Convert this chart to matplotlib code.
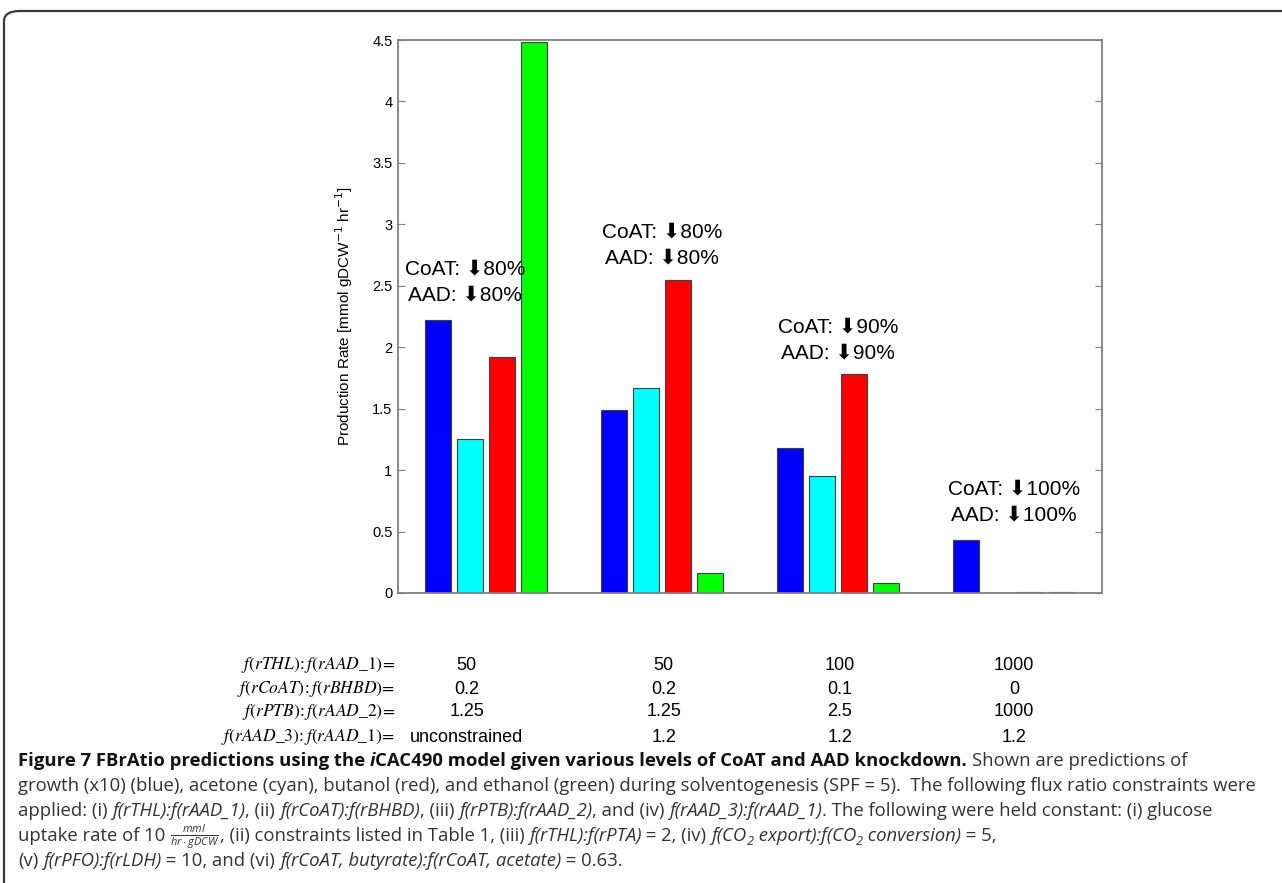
import matplotlib
matplotlib.use('Agg')
import matplotlib.pyplot as plt
import matplotlib.patches as patches
import matplotlib.transforms as mtransforms
import numpy as np

# data
groups = [1, 2, 3, 4]
growth = [2.22, 1.49, 1.18, 0.43]
acetone = [1.25, 1.67, 0.95, 0.0]
butanol = [1.92, 2.55, 1.78, 0.01]
ethanol = [4.48, 0.16, 0.08, 0.01]
series_colors = ['#0000ff', '#00ffff', '#ff0000', '#00ff00']

knockdown = ['80%', '80%', '90%', '100%']
knock_y = [2.53, 2.83, 2.06, 0.74]
knock_x = [0.88, 2.0, 3.0, 4.0]

row_labels = [r'$f\left(rTHL\right)\!:f\left(rAAD\_1\right)\!=$',
              r'$f\left(rCoAT\right)\!:f\left(rBHBD\right)\!=$',
              r'$f\left(rPTB\right)\!:f\left(rAAD\_2\right)\!=$',
              r'$f\left(rAAD\_3\right)\!:f\left(rAAD\_1\right)\!=$']
ratio_thl = ['50', '50', '100', '1000']
ratio_coat = ['0.2', '0.2', '0.1', '0']
ratio_ptb = ['1.25', '1.25', '2.5', '1000']
ratio_aad3 = ['unconstrained', '1.2', '1.2', '1.2']
col_x = [0.89, 2.01, 3.01, 4.0]

plt.rcParams['mathtext.fontset'] = 'custom'
plt.rcParams['mathtext.rm'] = 'Open Sans'
plt.rcParams['mathtext.it'] = 'Open Sans:italic'

W, H = 1282, 883
fig = plt.figure(figsize=(W / 100, H / 100), dpi=100)
ax = fig.add_axes([398 / W, 1 - 593 / H, 704 / W, 553 / H])

sans = ['Liberation Sans', 'DejaVu Sans']
x = np.array(groups, dtype=float)
width = 0.148
offsets = [-0.273, -0.091, 0.091, 0.273]
for vals, off, c in zip([growth, acetone, butanol, ethanol], offsets, series_colors):
    ax.bar(x + off, vals, width, color=c, edgecolor='#404040', linewidth=0.8)

ax.set_xlim(0.5, 4.5)
ax.set_ylim(0, 4.5)
ax.set_xticks([])
ax.set_yticks(np.arange(0, 4.51, 0.5))
ax.set_yticklabels(['%g' % v for v in np.arange(0, 4.51, 0.5)], family=sans, fontsize=10.5)
ax.tick_params(axis='y', direction='in', length=5, right=True, color='#808080', pad=4)
for s in ax.spines.values():
    s.set_color('#808080')
    s.set_linewidth(1.3)
ax.set_ylabel(r'Production Rate [mmol gDCW$^{-1}$ hr$^{-1}$]', family=sans, fontsize=11,
              math_fontfamily='dejavusans')
ax.yaxis.set_label_coords(-0.061, 0.5)

for xi, yi, k in zip(knock_x, knock_y, knockdown):
    ax.text(xi, yi, 'CoAT: \u2b07' + k + '\nAAD: \u2b07' + k, ha='center', va='center',
            family=sans, fontsize=15, linespacing=1.5)

# ratio table under the axes
tr = mtransforms.blended_transform_factory(ax.transData, fig.transFigure)
rows = [ratio_thl, ratio_coat, ratio_ptb, ratio_aad3]
row_y = [665, 689, 712, 737]
for lab, vals, py in zip(row_labels, rows, row_y):
    fy = 1 - py / H
    fig.text(395 / W, fy, lab, ha='right', va='center', fontsize=12.6, math_fontfamily='stix')
    for cx, v in zip(col_x, vals):
        fig.text(cx, fy, v, transform=tr, ha='center', va='center', family=sans, fontsize=13)

# frame around figure + caption
fig.patches.append(patches.FancyBboxPatch((4 / W, -0.2), 1.2, 1.2 - 11 / H,
                                          boxstyle='round,pad=0,rounding_size=0.012',
                                          transform=fig.transFigure, fill=False,
                                          ec='#3a3a3a', lw=1.6))

renderer = fig.canvas.get_renderer()
cap_size = 13.3
cap_col = '#333333'


def text_width(s, **kw):
    t = fig.text(0, 0, s, **kw)
    w = t.get_window_extent(renderer).width
    t.remove()
    return w


def draw_line(py, segs):
    px = 18.0
    for seg in segs:
        s = seg[0]
        style = seg[1] if len(seg) > 1 else 'n'
        kw = dict(family='Open Sans', fontsize=cap_size, color=cap_col, va='baseline')
        dy = 0
        if 'b' in style:
            kw['weight'] = 'bold'
            kw['color'] = '#111111'
        if 'i' in style:
            kw['style'] = 'italic'
        if 's' in style:
            kw['fontsize'] = cap_size * 0.7
            dy = -4
        if 'm' in style:
            kw = dict(fontsize=cap_size * 0.85, color=cap_col, va='baseline', math_fontfamily='custom')
        core = s.rstrip(' ')
        ntrail = len(s) - len(core)
        sp = text_width('x x', **kw) - text_width('xx', **kw)
        if core:
            fig.text(px / W, 1 - (py - dy) / H, core, **kw)
            px += text_width(core, **kw)
        px += ntrail * sp


draw_line(766, [('Figure 7 FBrAtio predictions using the ', 'b'), ('i', 'bi'),
                ('CAC490 model given various levels of CoAT and AAD knockdown. ', 'b'),
                ('Shown are predictions of',)])
draw_line(791, [('growth (x10) (blue), acetone (cyan), butanol (red), and ethanol (green) during '
                 'solventogenesis (SPF = 5).  The following flux ratio constraints were',)])
draw_line(816, [('applied: (i) ',), ('f(rTHL):f(rAAD_1)', 'i'), (', (ii) ',), ('f(rCoAT):f(rBHBD)', 'i'),
                (', (iii) ',), ('f(rPTB):f(rAAD_2)', 'i'), (', and (iv) ',), ('f(rAAD_3):f(rAAD_1)', 'i'),
                ('. The following were held constant: (i) glucose',)])
draw_line(841, [('uptake rate of 10 ',), (r'$\frac{mml}{hr\cdot gDCW}$', 'm'), (', (ii) constraints listed in Table 1, (iii) ',),
                ('f(rTHL):f(rPTA)', 'i'), (' = 2, (iv) ',), ('f(CO', 'i'), ('2', 'is'), (' export):f(CO', 'i'),
                ('2', 'is'), (' conversion)', 'i'), (' = 5,',)])
draw_line(866, [('(v) ',), ('f(rPFO):f(rLDH)', 'i'), (' = 10, and (vi) ',), ('f(rCoAT, butyrate):f(rCoAT, acetate)', 'i'),
                (' = 0.63.',)])

fig.savefig('out.png', dpi=100)
